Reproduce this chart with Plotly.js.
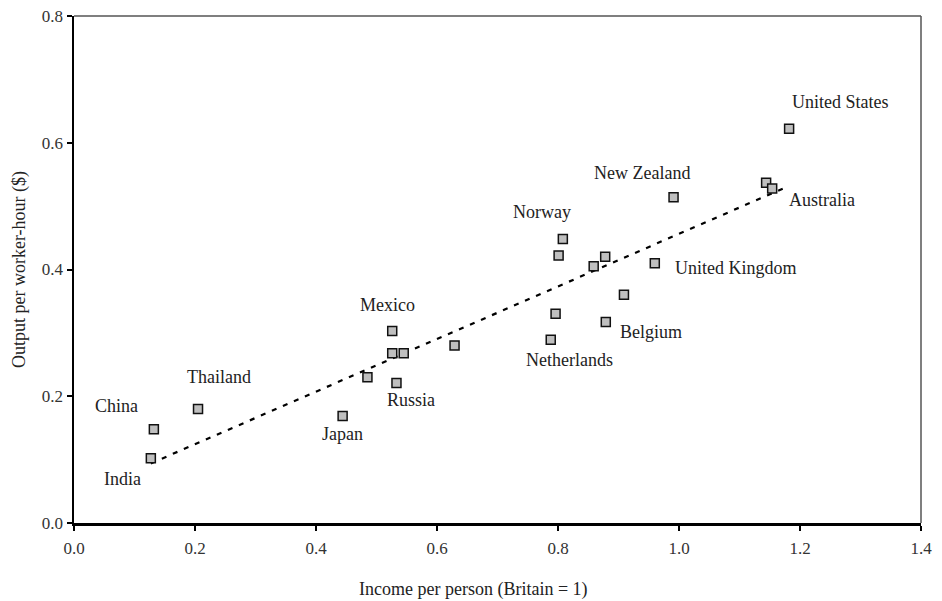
<!DOCTYPE html>
<html>
<head>
<meta charset="utf-8">
<script src="https://cdn.plot.ly/plotly-3.0.1.min.js"></script>
<style>html,body{margin:0;padding:0;background:#fff;}#chart{width:942px;height:601px;}</style>
</head>
<body>
<div id="chart"></div>
<script>
// Data
const countries = ["India","China","Thailand","Japan","","Russia","Mexico","","","","Netherlands","","Belgium","","Norway","","","","United Kingdom","New Zealand","","Australia","United States"];
const income = [0.127,0.132,0.205,0.444,0.485,0.533,0.526,0.526,0.545,0.629,0.788,0.796,0.879,0.909,0.808,0.801,0.878,0.859,0.960,0.991,1.144,1.154,1.182];
const output = [0.102,0.148,0.180,0.169,0.230,0.221,0.303,0.268,0.268,0.280,0.289,0.330,0.317,0.360,0.448,0.422,0.420,0.405,0.410,0.514,0.537,0.528,0.622];

const trendX = [0.127, 1.18];
const trendY = [0.094, 0.531];

const xTitle = 'Income per person (Britain = 1)';
const yTitle = 'Output per worker-hour ($)';

// Label offsets in pixels (style only)
const labelShift = {
  "United States":[51,27], "New Zealand":[-32,24], "Australia":[50,-12], "Norway":[-21,27],
  "United Kingdom":[81,-5], "Mexico":[-5,26], "Belgium":[45,-10], "Netherlands":[19,-20],
  "Thailand":[21,32], "Russia":[15,-17], "China":[-37,23], "Japan":[0,-18], "India":[-28,-21]
};

const serif = "Liberation Serif, Times New Roman, serif";
const annotations = [];
countries.forEach((c,i)=>{
  if(!c) return;
  const s = labelShift[c];
  annotations.push({x:income[i], y:output[i], xref:'x', yref:'y', text:c, showarrow:false,
    xshift:s[0], yshift:s[1], font:{family:serif, size:18, color:'#222'}});
});
annotations.push({xref:'paper', yref:'paper', x:0.472, y:0, yshift:-66, xanchor:'center', yanchor:'middle',
  text:xTitle, showarrow:false, font:{family:serif, size:18, color:'#222'}});

const traces = [
  {x:trendX, y:trendY, mode:'lines', line:{color:'#000', width:2.2, dash:'5px,7px'}, hoverinfo:'skip'},
  {x:income, y:output, mode:'markers', marker:{symbol:'square', size:9, color:'#bfbfbf', line:{color:'#111', width:1.5}}}
];

const layout = {
  width:942, height:601,
  margin:{l:74, r:21, t:16, b:78},
  paper_bgcolor:'#fff', plot_bgcolor:'#fff',
  showlegend:false,
  font:{family:serif, size:17, color:'#333'},
  xaxis:{range:[0,1.4], dtick:0.2, tick0:0, tickformat:'.1f', showgrid:false, zeroline:false,
    showline:true, linecolor:'#000', linewidth:2.5, ticks:'outside', ticklen:5, tickwidth:2, tickcolor:'#000',
    ticklabelstandoff:3,
    tickfont:{family:serif, size:17, color:'#333'}},
  yaxis:{range:[0,0.8], dtick:0.2, tick0:0, tickformat:'.1f', showgrid:false, zeroline:false,
    showline:true, linecolor:'#000', linewidth:2.5, ticks:'outside', ticklen:5, tickwidth:2, tickcolor:'#000',
    tickfont:{family:serif, size:17, color:'#333'},
    title:{text:yTitle, font:{family:serif, size:18, color:'#222'}, standoff:12}},
  shapes:[
    {type:'line', xref:'paper', yref:'paper', x0:0, x1:1, y0:1, y1:1, line:{color:'#555', width:1.5}},
    {type:'line', xref:'paper', yref:'paper', x0:1, x1:1, y0:0, y1:1, line:{color:'#555', width:1.5}}
  ],
  annotations:annotations
};

Plotly.newPlot('chart', traces, layout, {displayModeBar:false, staticPlot:true});
</script>
</body>
</html>
